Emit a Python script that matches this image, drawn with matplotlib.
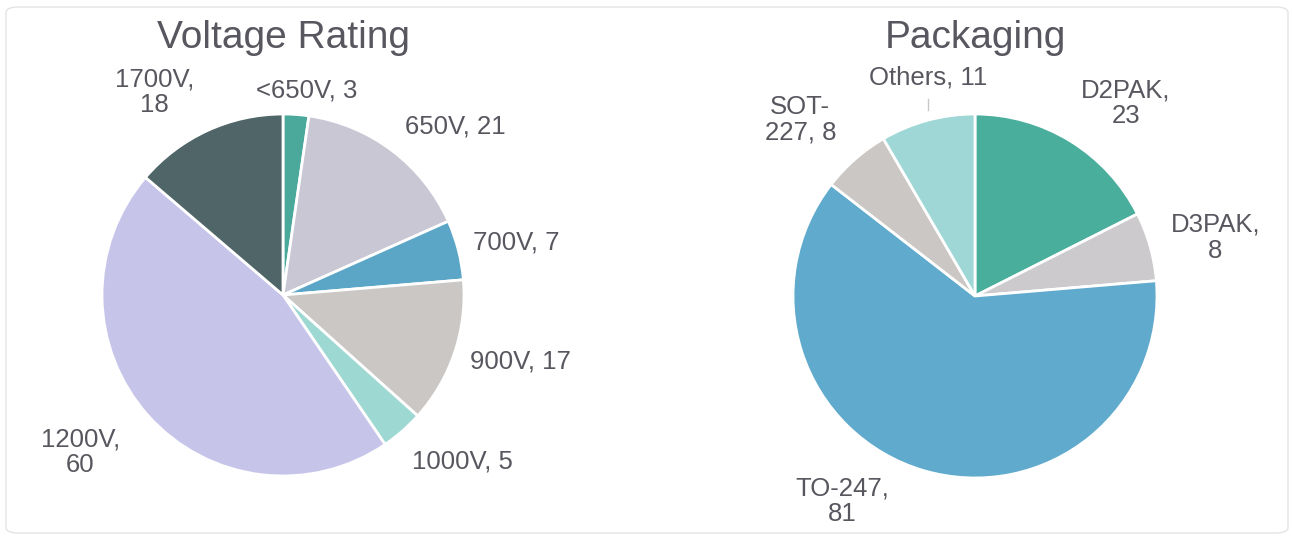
import matplotlib.pyplot as plt
from matplotlib.patches import FancyBboxPatch

plt.rcParams['font.family'] = ['Liberation Sans', 'DejaVu Sans']

volt_labels = ['<650V', '650V', '700V', '900V', '1000V', '1200V', '1700V']
volt_values = [3, 21, 7, 17, 5, 60, 18]
volt_colors = ['#4aa99a', '#c9c7d4', '#5ba6c6', '#cbc7c4', '#9ed8d3', '#c7c4ea', '#4f6567']
volt_text = ['<650V, 3', '650V, 21', '700V, 7', '900V, 17', '1000V, 5', '1200V,\n60', '1700V,\n18']

pack_labels = ['D2PAK', 'D3PAK', 'TO-247', 'SOT-227', 'Others']
pack_values = [23, 8, 81, 8, 11]
pack_colors = ['#4aae9c', '#cccacd', '#60aacd', '#cbc7c4', '#9fd7d6']
pack_text = ['D2PAK,\n23', 'D3PAK,\n8', 'TO-247,\n81', 'SOT-\n227, 8', 'Others, 11']

# label positions in pie radius units
volt_pos = [(0.13, 1.13), (0.95, 0.93), (1.29, 0.29), (1.31, -0.37),
            (0.99, -0.92), (-1.12, -0.87), (-0.71, 1.12)]
pack_pos = [(0.83, 1.06), (1.32, 0.32), (-0.73, -1.13), (-0.96, 0.97), (-0.26, 1.20)]

W, H = 1292, 541
fig = plt.figure(figsize=(W / 100, H / 100), dpi=100)
fig.patches.append(FancyBboxPatch((6 / W, 8 / H), 1282 / W, 526 / H,
                                  boxstyle='round,pad=0,rounding_size=0.01',
                                  transform=fig.transFigure, facecolor='white',
                                  edgecolor='#e4e4e4', linewidth=1, zorder=-1))

txt_color = '#58575f'


def draw_pie(cx, cy, r, values, colors, texts, pos, title):
    ax = fig.add_axes([(cx - 2 * r) / W, 1 - (cy + 2 * r) / H, 4 * r / W, 4 * r / H])
    ax.pie(values, colors=colors, startangle=90, counterclock=False, radius=1,
           wedgeprops=dict(edgecolor='white', linewidth=2))
    ax.set_xlim(-2, 2)
    ax.set_ylim(-2, 2)
    ax.set_aspect('equal')
    ax.axis('off')
    for t, (x, y) in zip(texts, pos):
        ax.text(x, y, t, ha='center', va='center', fontsize=18.5, color=txt_color,
                linespacing=1.08)
    ax.text(0, 1.42, title, ha='center', va='center', fontsize=28, color=txt_color)
    return ax


draw_pie(283, 295, 181, volt_values, volt_colors, volt_text, volt_pos, 'Voltage Rating')
ax2 = draw_pie(975, 296, 182, pack_values, pack_colors, pack_text, pack_pos, 'Packaging')
ax2.plot([-0.26, -0.26], [1.02, 1.08], color='#c8c8c8', linewidth=1)

fig.savefig('out.png', dpi=100, facecolor='white')
